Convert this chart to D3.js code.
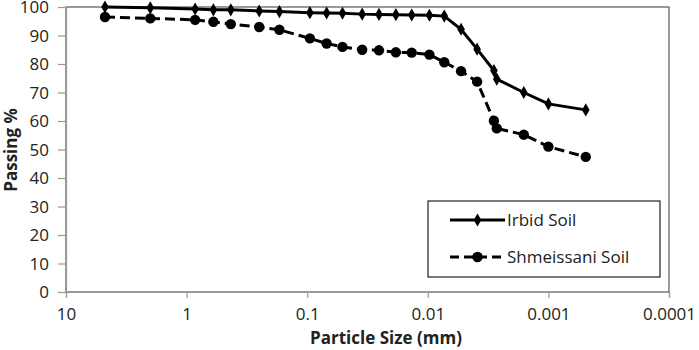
<!DOCTYPE html>
<html>
<head>
<meta charset="utf-8">
<script src="https://cdn.jsdelivr.net/npm/d3@7"></script>
<style>
  body { margin: 0; background: #fff; }
  text { font-family: "Open Sans", sans-serif; fill: #222; }
</style>
</head>
<body>
<svg id="chart" width="699" height="350"></svg>
<script>
// particle sizes (mm), shared by both soils
const sizes = [4.75, 2.0, 0.85, 0.6, 0.43, 0.25, 0.17, 0.095, 0.069, 0.051, 0.035, 0.0254, 0.0184, 0.0136, 0.0097, 0.0073, 0.0053, 0.0039, 0.00283, 0.00268, 0.0016, 0.001, 0.00049];
const irbid = [100, 99.7, 99.3, 99, 99, 98.6, 98.4, 98, 97.9, 97.8, 97.5, 97.4, 97.3, 97.2, 97.1, 96.8, 92.2, 85.2, 77.7, 74.7, 70, 66, 63.9];
const shmeissani = [96.5, 96.0, 95.5, 94.8, 94.0, 93.0, 92.0, 89.0, 87.2, 86.0, 85.0, 84.8, 84.1, 84.0, 83.3, 80.6, 77.5, 73.8, 60.1, 57.4, 55.2, 51.0, 47.4];
const xTicks = [10, 1, 0.1, 0.01, 0.001, 0.0001];
const xTickLabels = ["10", "1", "0.1", "0.01", "0.001", "0.0001"];
const yTicks = [0, 10, 20, 30, 40, 50, 60, 70, 80, 90, 100];
const seriesNames = ["Irbid Soil", "Shmeissani Soil"];

const svg = d3.select("#chart");
const plotLeft = 66, plotRight = 669, plotTop = 7, plotBottom = 292;

const x = d3.scaleLog().domain([10, 0.0001]).range([plotLeft, plotRight]);
const y = d3.scaleLinear().domain([0, 100]).range([plotBottom, plotTop]);

// plot frame
svg.append("rect")
    .attr("x", plotLeft).attr("y", plotTop)
    .attr("width", plotRight - plotLeft).attr("height", plotBottom - plotTop)
    .attr("fill", "none").attr("stroke", "#555").attr("stroke-width", 1.2);

// Axes
const xAxis = svg.append("g")
    .attr("transform", `translate(0,${plotBottom})`)
    .call(d3.axisBottom(x).tickValues(xTicks).tickFormat((d, i) => xTickLabels[i]).tickSize(6).tickPadding(10));
const yAxis = svg.append("g")
    .attr("transform", `translate(${plotLeft},0)`)
    .call(d3.axisLeft(y).tickValues(yTicks).tickSize(8).tickPadding(9));

[xAxis, yAxis].forEach(g => {
    g.select(".domain").attr("stroke", "#999").attr("stroke-width", 1.2);
    g.selectAll(".tick line").attr("stroke", "#999").attr("stroke-width", 1.2);
    g.selectAll(".tick text").style("font-family", "Open Sans").style("font-size", "17px").attr("fill", "#222");
});
yAxis.selectAll(".tick text").attr("dy", "0.34em");

// Lines
const line = d3.line().x(d => x(d[0])).y(d => y(d[1]));
const irbidPts = sizes.map((s, i) => [s, irbid[i]]);
const shmPts = sizes.map((s, i) => [s, shmeissani[i]]);

svg.append("path").datum(shmPts)
    .attr("d", line).attr("fill", "none")
    .attr("stroke", "#000").attr("stroke-width", 3).attr("stroke-dasharray", "10,5");
svg.append("path").datum(irbidPts)
    .attr("d", line).attr("fill", "none")
    .attr("stroke", "#000").attr("stroke-width", 3);

const diamond = d3.symbol().type(d3.symbolDiamond).size(50);

//Nodes
svg.selectAll(".shm").data(shmPts).enter().append("circle")
    .attr("cx", d => x(d[0])).attr("cy", d => y(d[1])).attr("r", 5.2).attr("fill", "#000");
svg.selectAll(".irb").data(irbidPts).enter().append("path")
    .attr("d", diamond)
    .attr("transform", d => `translate(${x(d[0])},${y(d[1])})`).attr("fill", "#000");

// Legend
const leg = svg.append("g");
leg.append("rect").attr("x", 428).attr("y", 201).attr("width", 232).attr("height", 76)
    .attr("fill", "#fff").attr("stroke", "#222").attr("stroke-width", 1.2);
[220, 257].forEach((ly, i) => {
    leg.append("line").attr("x1", 450).attr("x2", 505).attr("y1", ly).attr("y2", ly)
        .attr("stroke", "#000").attr("stroke-width", 3)
        .attr("stroke-dasharray", i ? "9,5" : null);
    if (i) leg.append("circle").attr("cx", 477.5).attr("cy", ly).attr("r", 5.2);
    else leg.append("path").attr("d", diamond).attr("transform", `translate(477.5,${ly})`);
    leg.append("text").attr("x", 507).attr("y", ly + 6)
        .style("font-size", "17px").text(seriesNames[i]);
});

// Titles
svg.append("text").attr("x", 386).attr("y", 344).attr("text-anchor", "middle")
    .style("font-size", "17px").style("font-weight", "bold").text("Particle Size (mm)");
svg.append("text").attr("transform", "translate(17,150) rotate(-90)").attr("text-anchor", "middle")
    .style("font-size", "17px").style("font-weight", "bold").text("Passing %");
</script>
</body>
</html>
